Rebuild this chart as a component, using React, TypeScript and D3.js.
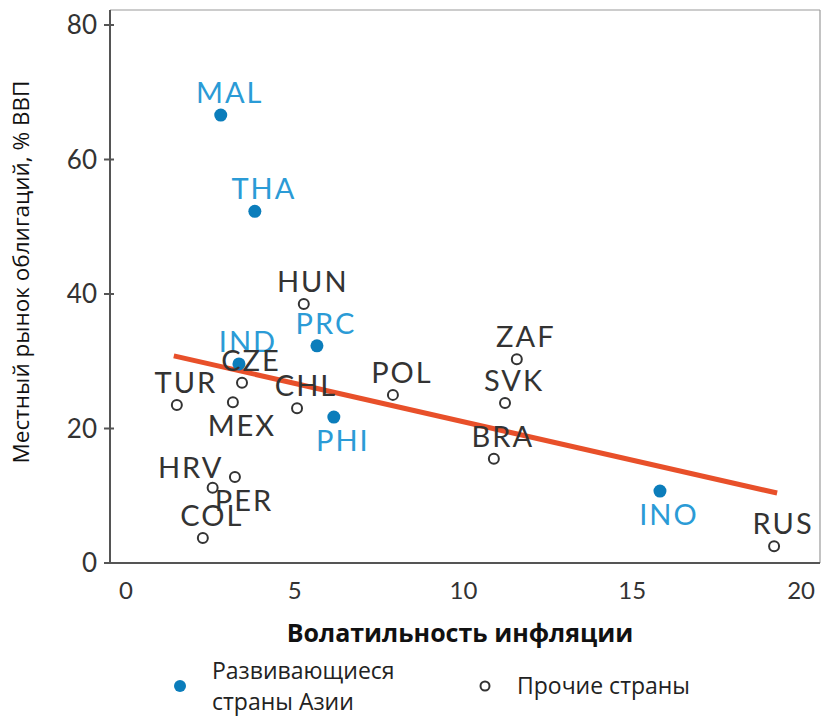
import React, { useEffect, useRef } from "react";
import * as d3 from "d3";

// data
const countries = ["MAL", "THA", "HUN", "PRC", "IND", "CZE", "TUR", "MEX", "CHL", "PHI", "POL", "ZAF", "SVK", "BRA", "INO", "RUS", "HRV", "PER", "COL"];
const inflationVol = [2.81, 3.82, 5.27, 5.66, 3.35, 3.44, 1.51, 3.17, 5.07, 6.16, 7.91, 11.58, 11.23, 10.9, 15.82, 19.2, 2.57, 3.23, 2.28];
const bondMarket = [66.6, 52.3, 38.5, 32.3, 29.6, 26.8, 23.5, 23.9, 23.0, 21.7, 25.0, 30.3, 23.8, 15.5, 10.7, 2.5, 11.2, 12.8, 3.7];
const asiaGroup = [true, true, false, true, true, false, false, false, false, true, false, false, false, false, true, false, false, false, false];
const trendX = [1.42, 19.29];
const trendY = [30.8, 10.4];
const xTicks = [0, 5, 10, 15, 20];
const yTicks = [0, 20, 40, 60, 80];
const legendLabels = [["Развивающиеся", "страны Азии"], ["Прочие страны"]];

// label placement (layout only)
const labelsBelow = ["MEX", "PHI", "INO", "PER"];
const labelsLeft = ["HRV"];

const BLUE = "#0b7dbb";
const BLUE_TEXT = "#2b9bd6";
const DARK = "#333333";

const App = () => {
  const ref = useRef<SVGSVGElement>(null);

  useEffect(() => {
    document.body.style.margin = "0";
    draw();
  });

  const draw = () => {
    const svg = d3.select(ref.current);
    svg.selectAll("*").remove();

    const left = 110, right = 820, top = 10, bottom = 563;
    const x = d3.scaleLinear().domain([-0.47, 20.56]).range([left, right]);
    const y = d3.scaleLinear().domain([0, 80]).range([bottom, 25]);

    // frame
    svg.append("line").attr("x1", left).attr("x2", right).attr("y1", top).attr("y2", top)
      .attr("stroke", "#9a9a9a").attr("stroke-width", 1.2);
    svg.append("line").attr("x1", right).attr("x2", right).attr("y1", top).attr("y2", bottom)
      .attr("stroke", "#9a9a9a").attr("stroke-width", 1.2);
    svg.append("line").attr("x1", left).attr("x2", left).attr("y1", top).attr("y2", bottom + 1)
      .attr("stroke", "#555").attr("stroke-width", 2);
    svg.append("line").attr("x1", left - 6).attr("x2", right).attr("y1", bottom).attr("y2", bottom)
      .attr("stroke", "#555").attr("stroke-width", 2);

    // y ticks
    const yt = svg.append("g");
    yt.selectAll("line").data(yTicks).enter().append("line")
      .attr("x1", left - 6).attr("x2", left + 4)
      .attr("y1", (d) => y(d)).attr("y2", (d) => y(d))
      .attr("stroke", "#555").attr("stroke-width", 2);
    yt.selectAll("text").data(yTicks).enter().append("text")
      .attr("x", left - 13).attr("y", (d) => y(d) + 9)
      .attr("text-anchor", "end")
      .style("font-family", "Lato").style("font-size", "26px")
      .attr("fill", DARK).text((d) => d);

    // x ticks
    svg.append("g").selectAll("text").data(xTicks).enter().append("text")
      .attr("x", (d) => x(d)).attr("y", 599)
      .attr("text-anchor", "middle")
      .style("font-family", "Lato").style("font-size", "24px")
      .attr("fill", DARK).text((d) => d);

    // axis titles
    svg.append("text").attr("x", 460).attr("y", 642).attr("text-anchor", "middle")
      .style("font-family", "Open Sans").style("font-size", "25px").style("font-weight", "bold")
      .attr("fill", "#111").text("Волатильность инфляции");
    svg.append("text").attr("transform", "translate(29, 272) rotate(-90)").attr("text-anchor", "middle")
      .style("font-family", "Open Sans").style("font-size", "22.5px")
      .attr("fill", "#111").text("Местный рынок облигаций, % ВВП");

    // trend line
    svg.append("line")
      .attr("x1", x(trendX[0])).attr("y1", y(trendY[0]))
      .attr("x2", x(trendX[1])).attr("y2", y(trendY[1]))
      .attr("stroke", "#e8502a").attr("stroke-width", 5);

    const idx = countries.map((c, i) => i);

    // points
    const pts = svg.append("g");
    pts.selectAll("circle").data(idx).enter().append("circle")
      .attr("cx", (i) => x(inflationVol[i])).attr("cy", (i) => y(bondMarket[i]))
      .attr("r", (i) => (asiaGroup[i] ? 6.5 : 5))
      .attr("fill", (i) => (asiaGroup[i] ? BLUE : "none"))
      .attr("stroke", (i) => (asiaGroup[i] ? "none" : DARK))
      .attr("stroke-width", 2);

    // labels
    pts.selectAll("text").data(idx).enter().append("text")
      .attr("x", (i) => x(inflationVol[i]) + (labelsLeft.includes(countries[i]) ? -22 : 9))
      .attr("y", (i) => y(bondMarket[i]) + (labelsBelow.includes(countries[i]) ? 34 : labelsLeft.includes(countries[i]) ? -10 : -12))
      .attr("text-anchor", "middle")
      .style("font-family", "Lato").style("font-size", "29px").style("letter-spacing", "2px")
      .attr("fill", (i) => (asiaGroup[i] ? BLUE_TEXT : DARK))
      .text((i) => countries[i]);

    // legend
    const lg = svg.append("g").style("font-family", "Open Sans").style("font-size", "23px").attr("fill", "#222");
    lg.append("circle").attr("cx", 180).attr("cy", 686).attr("r", 6).attr("fill", BLUE);
    lg.append("text").attr("x", 212).attr("y", 679).text(legendLabels[0][0]);
    lg.append("text").attr("x", 212).attr("y", 710).text(legendLabels[0][1]);
    lg.append("circle").attr("cx", 485).attr("cy", 686).attr("r", 4.5)
      .attr("fill", "none").attr("stroke", DARK).attr("stroke-width", 2);
    lg.append("text").attr("x", 517).attr("y", 694).text(legendLabels[1][0]);
  };

  return <svg ref={ref} width={823} height={718} style={{ display: "block" }} />;
};

export default App;
